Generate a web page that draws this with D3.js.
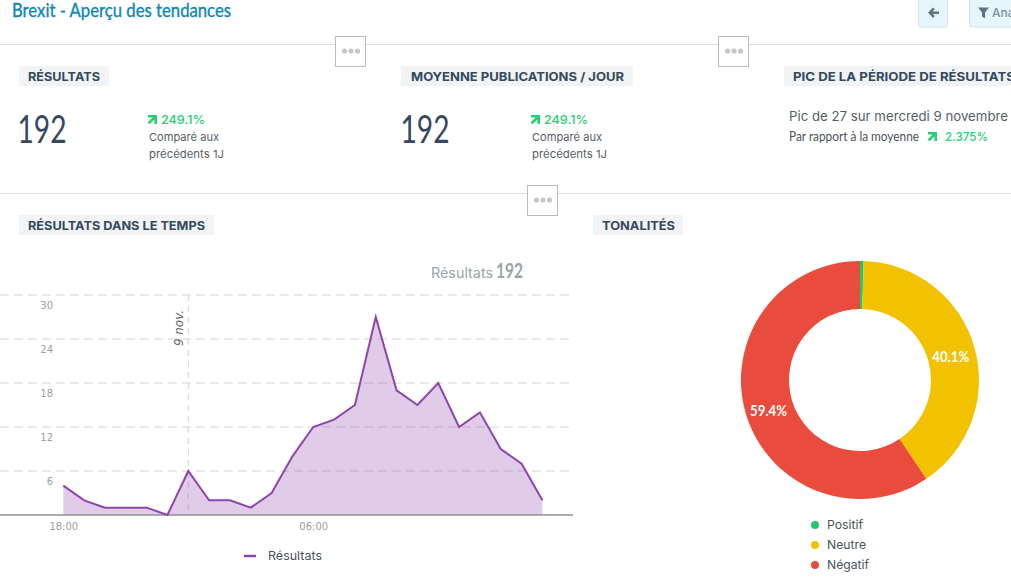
<!DOCTYPE html>
<html><head><meta charset="utf-8">
<script src="https://cdn.jsdelivr.net/npm/d3@7/dist/d3.min.js"></script>
<style>
html,body{margin:0;padding:0;background:#fff;overflow:hidden}
svg{display:block}
text{font-family:"Inter","Open Sans",sans-serif}
</style></head><body>
<svg id="c" width="1011" height="586"></svg>
<script>
const hours=["18:00","19:00","20:00","21:00","22:00","23:00","00:00","01:00","02:00","03:00","04:00","05:00","06:00","07:00","08:00","09:00","10:00","11:00","12:00","13:00","14:00","15:00","16:00","17:00"];
const results=[4,2,1,1,1,0,6,2,2,1,3,8,12,13,15,27,17,15,18,12,14,9,7,2];
const yTicks=[6,12,18,24,30];
const xTickLabels=["18:00","06:00"];
const dayMark="00:00";
const tones=["Positif","Neutre","Négatif"];
const toneValues=[0.5,40.1,59.4];
const toneColors=["#22c76f","#f2c200","#e94b3c"];
const PURPLE="#8e44ad", NAVY="#34495e", GREEN="#25cf72";

const svg=d3.select("#c");
function T(x,y,s,o={}){
  const t=svg.append("text").attr("x",x).attr("y",y).text(s)
    .attr("font-size",o.size||12).attr("fill",o.fill||"#555")
    .attr("font-weight",o.weight||400).attr("text-anchor",o.anchor||"start");
  if(o.family)t.style("font-family",o.family);
  if(o.len)t.attr("textLength",o.len).attr("lengthAdjust","spacingAndGlyphs");
  return t;
}
const NARROW='"Liberation Sans Narrow","Lato",sans-serif';
const CAB='"Lato",sans-serif';
const WIDE='"DejaVu Sans",sans-serif';

// header
T(12,17,"Brexit - Aperçu des tendances",{size:20,fill:"#0b86b5",family:CAB,weight:400,len:219})
  .attr("stroke","#0b86b5").attr("stroke-width",.35);
svg.append("rect").attr("x",918.5).attr("y",-4).attr("width",29).attr("height",31).attr("rx",2).attr("fill","#e6f4fb").attr("stroke","#d5e4ec");
svg.append("path").attr("d","M928 12.5l5-5 1.8 1.8-2.2 2.2h6.4v2.4h-6.4l2.2 2.2-1.8 1.8z").attr("fill","#5f7480");
svg.append("rect").attr("x",969.5).attr("y",-4).attr("width",60).attr("height",31).attr("rx",2).attr("fill","#e6f4fb").attr("stroke","#d5e4ec");
svg.append("path").attr("d","M978 7.5h11l-4 5v6l-3-2v-4z").attr("fill","#5f7480");
T(992,17,"Ana",{size:12,fill:"#7d8f99",weight:500});

// dividers and handles
[44,193].forEach(y=>svg.append("line").attr("x1",0).attr("x2",1011).attr("y1",y+.5).attr("y2",y+.5).attr("stroke","#d9dbdc"));
[[335.5,36.5],[718.5,36.5],[527.5,185.5]].forEach(([x,y])=>{
  svg.append("rect").attr("x",x).attr("y",y).attr("width",30).attr("height",30).attr("fill","#fff").attr("stroke","#b9bcbe");
  [9,15.5,22].forEach(d=>svg.append("circle").attr("cx",x+d).attr("cy",y+14.5).attr("r",2.6).attr("fill","#c4c6c8"));
});

// section headings
function heading(x,w,y,tx,tw,s){
  svg.append("rect").attr("x",x).attr("y",y).attr("width",w).attr("height",20).attr("fill","#f1f3f5");
  T(tx,y+15,s,{size:12,fill:NAVY,weight:700,len:tw});
}
heading(19,90,66,28,72,"RÉSULTATS");
heading(401,232,66,411,213,"MOYENNE PUBLICATIONS / JOUR");
heading(784,240,66,793,222,"PIC DE LA PÉRIODE DE RÉSULTATS");
heading(19,195,215,28,177,"RÉSULTATS DANS LE TEMPS");
heading(593,90,215,602,73,"TONALITÉS");

function arrow(x,y){
  svg.append("path").attr("d",`M${x} ${y}h9v9h-2.6v-4.6l-4.9 4.9-1.9-1.9 4.9-4.9h-4.5z`).attr("fill",GREEN);
}
[[17.5,148],[400.5,531]].forEach(([a,b])=>{
  T(a,143,"192",{size:38,fill:NAVY,family:NARROW,len:49});
  arrow(b,115);
  T(b+13,124,"249.1%",{size:12,fill:GREEN,weight:500,len:44});
  T(b+1,141,"Comparé aux",{size:11,fill:"#555e68",len:70});
  T(b+1,158,"précédents 1J",{size:11,fill:"#555e68",len:75});
});
T(789,121,"Pic de 27 sur mercredi 9 novembre",{size:13,fill:"#555e68",len:219});
T(789,141,"Par rapport à la moyenne",{size:14,fill:"#4a525b",family:NARROW,len:130});
arrow(928,132);
T(945,141,"2.375%",{size:12,fill:GREEN,weight:500,len:43});

// area chart
const x=d3.scaleLinear().domain([0,hours.length-1]).range([63.3,542.4]);
const y=d3.scaleLinear().domain([0,30]).range([515,295]);
const gy=svg.append("g").attr("transform","translate(53,0)")
  .call(d3.axisLeft(y).tickValues(yTicks).tickSize(0).tickPadding(0));
gy.select(".domain").remove();
gy.selectAll("text").attr("dy",null).attr("y",13).attr("font-size",10).attr("fill","#9a9ea2").style("font-family",WIDE);
gy.selectAll("line").remove();
const gridG=svg.insert("g",":first-child");
yTicks.forEach(t=>gridG.append("line").attr("x1",0).attr("x2",573).attr("y1",y(t)).attr("y2",y(t))
  .attr("stroke","#d2d4d6").attr("stroke-dasharray","9 5"));
const dx=x(hours.indexOf(dayMark));
gridG.append("line").attr("x1",dx).attr("x2",dx).attr("y1",295).attr("y2",515).attr("stroke","#d2d4d6").attr("stroke-dasharray","6 5");
svg.append("text").attr("transform",`translate(${dx-5},346) rotate(-90)`).text("9 nov.")
  .attr("font-size",12).attr("font-style","italic").attr("fill","#666").style("font-family",WIDE)
  .attr("textLength",36).attr("lengthAdjust","spacingAndGlyphs");

svg.append("path").datum(results).attr("fill",PURPLE).attr("fill-opacity",.27)
  .attr("d",d3.area().x((d,i)=>x(i)).y0(y(0)).y1(d=>y(d)));
svg.append("line").attr("x1",0).attr("x2",573).attr("y1",515).attr("y2",515).attr("stroke","#8f9396").attr("stroke-width",1.5);
svg.append("path").datum(results).attr("fill","none").attr("stroke",PURPLE).attr("stroke-width",2)
  .attr("d",d3.line().x((d,i)=>x(i)).y(d=>y(d)));
const gx=svg.append("g").attr("transform","translate(0,515)")
  .call(d3.axisBottom(x).tickValues(xTickLabels.map(l=>hours.indexOf(l))).tickFormat(i=>hours[i]).tickSize(0).tickPadding(8));
gx.select(".domain").remove();
gx.selectAll("text").attr("font-size",10).attr("fill","#9a9ea2").style("font-family",WIDE);

T(431,277.5,"Résultats",{size:14,fill:"#9aa5a8",len:62});
T(496,278,"192",{size:21,fill:"#9aa5a8",weight:700,family:NARROW,len:27});
svg.append("line").attr("x1",244).attr("x2",256).attr("y1",556).attr("y2",556).attr("stroke",PURPLE).attr("stroke-width",2.5);
T(268,560,"Résultats",{size:12,fill:"#4a525b",len:54});

// donut
const R=119,r=71,cx=860,cy=380;
const pie=d3.pie().sort(null)(toneValues);
const arc=d3.arc().outerRadius(R).innerRadius(r);
const g=svg.append("g").attr("transform",`translate(${cx},${cy})`);
g.selectAll("path").data(pie).join("path").attr("d",arc).attr("fill",(d,i)=>toneColors[i]);
pie.forEach((p,i)=>{
  if(toneValues[i]<5)return;
  const [a,b]=arc.centroid(p);
  g.append("text").attr("x",a-.5).attr("y",b+8).attr("text-anchor","middle").text(toneValues[i].toFixed(1)+"%")
    .attr("font-size",15).attr("font-weight",700).attr("fill","#fff").style("font-family",CAB)
    .attr("textLength",37).attr("lengthAdjust","spacingAndGlyphs");
});
tones.forEach((t,i)=>{
  const ly=525+i*20;
  svg.append("circle").attr("cx",815).attr("cy",ly).attr("r",4).attr("fill",toneColors[i]);
  T(827,ly+4,t,{size:12,fill:"#4a525b",len:[36,39,42][i]});
});
</script></body></html>
